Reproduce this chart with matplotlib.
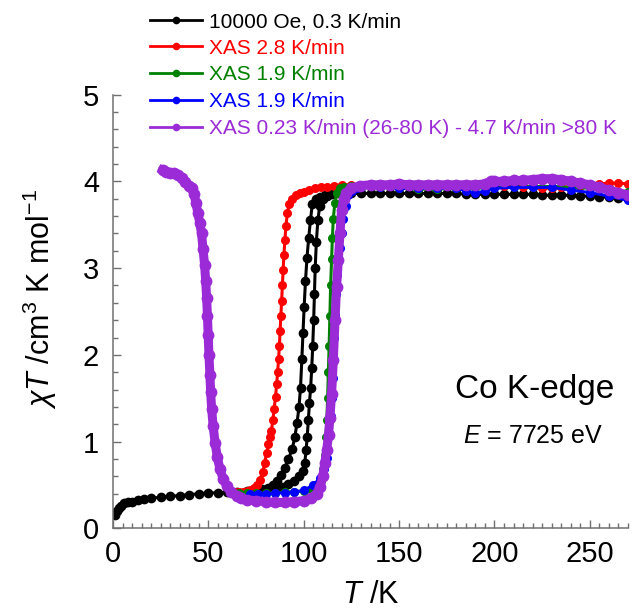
import matplotlib
matplotlib.use("Agg")
import matplotlib.pyplot as plt
from matplotlib.ticker import MultipleLocator
from matplotlib.lines import Line2D

plt.rcParams['font.family'] = ['Liberation Sans', 'DejaVu Sans']
plt.rcParams['mathtext.fontset'] = 'custom'
plt.rcParams['mathtext.rm'] = 'Liberation Sans'
plt.rcParams['mathtext.it'] = 'Liberation Sans:italic'

# SQUID, 10000 Oe, 0.3 K/min : warming branch then cooling branch
black_warm_T = [1, 2, 3, 4, 6, 8, 10, 13, 16, 20, 25, 30, 35, 40, 45, 50, 55, 60, 65, 70,
                75, 80, 85, 89, 92, 95, 97.5, 99.6, 100.5, 101.2, 101.8, 102.4, 103, 103.6,
                104.2, 104.7, 105.2, 105.6, 106, 106.6, 107.4, 108.4, 110, 112, 115,
                120, 125, 130, 135, 140, 145, 150, 155, 160, 165, 170, 175, 180, 185, 190,
                195, 200, 205, 210, 215, 220, 225, 230, 235, 240, 245, 250, 255, 260, 265, 270]
black_warm_chi = [0.15, 0.2, 0.24, 0.26, 0.29, 0.3, 0.31, 0.33, 0.34, 0.35, 0.36, 0.37, 0.38,
                  0.39, 0.4, 0.41, 0.41, 0.42, 0.42, 0.43, 0.43, 0.44, 0.46, 0.48, 0.51, 0.55,
                  0.6, 0.66, 0.75, 0.9, 1.05, 1.25, 1.45, 1.62, 1.85, 2.1, 2.4, 2.7, 3.0, 3.3,
                  3.55, 3.72, 3.8, 3.83, 3.85,
                  3.86, 3.86, 3.86, 3.86, 3.86, 3.86, 3.86, 3.86, 3.86, 3.86, 3.86, 3.86, 3.86,
                  3.85, 3.85, 3.85, 3.85, 3.85, 3.85, 3.85, 3.85, 3.84, 3.84, 3.84, 3.84, 3.83,
                  3.83, 3.82, 3.82, 3.81, 3.81]
black_cool_T = [118, 114, 111, 108.5, 106.5, 104.5, 103.5, 102.6, 101.7, 100.9, 100.2, 99.6,
                99, 98.3, 97.5, 96.5, 95.3, 94, 92, 90, 88, 86, 84, 81, 78, 75]
black_cool_chi = [3.86, 3.85, 3.84, 3.82, 3.8, 3.74, 3.55, 3.35, 3.12, 2.85, 2.55, 2.25, 1.95,
                  1.62, 1.4, 1.22, 1.05, 0.92, 0.8, 0.7, 0.62, 0.55, 0.5, 0.47, 0.45, 0.44]

# XAS 2.8 K/min
red_T = [62, 64, 66, 68, 70, 72, 74, 75.5, 77, 78.5, 79.5, 80.5, 81.5, 82.3, 83, 83.8, 84.5,
         85.2, 85.8, 86.3, 86.8, 87.2, 87.6, 88, 88.4, 88.8, 89.2, 89.6, 90.1, 90.7, 91.4,
         92.4, 94, 96, 98, 100, 103, 106, 109, 112, 116, 120, 125, 130, 135, 140, 145, 150,
         155, 160, 165, 170, 175, 180, 185, 190, 195, 200, 205, 210, 215, 220, 225, 230, 235,
         240, 245, 250, 255, 260, 265, 270]
red_chi = [0.42, 0.42, 0.42, 0.42, 0.43, 0.44, 0.47, 0.5, 0.56, 0.65, 0.75, 0.87, 0.97, 1.05,
           1.12, 1.25, 1.38, 1.52, 1.66, 1.8, 1.95, 2.1, 2.27, 2.45, 2.62, 2.8, 2.98, 3.15,
           3.32, 3.49, 3.63, 3.74, 3.8, 3.84, 3.87, 3.88, 3.9, 3.92, 3.93, 3.94, 3.95, 3.96,
           3.96, 3.96, 3.96, 3.96, 3.96, 3.96, 3.96, 3.96, 3.96, 3.96, 3.96, 3.96, 3.96, 3.96,
           3.96, 3.96, 3.95, 3.95, 3.94, 3.93, 3.92, 3.92, 3.93, 3.94, 3.95, 3.96, 3.97, 3.98,
           3.98, 3.97]

# XAS 1.9 K/min (green)
green_T = [66, 70, 75, 80, 85, 90, 95, 100, 104, 107, 109, 110.3, 111, 111.6, 112.1, 112.5,
           112.9, 113.3, 113.7, 114.1, 114.6, 115, 115.5, 116.3, 117.2, 119, 121, 125, 130,
           140, 150, 160, 170, 180, 190, 200, 210, 220, 230, 240, 250, 260, 270]
green_chi = [0.41, 0.41, 0.41, 0.41, 0.41, 0.42, 0.42, 0.43, 0.45, 0.48, 0.55, 0.68, 0.85,
             1.05, 1.25, 1.5, 1.8, 2.1, 2.45, 2.8, 3.1, 3.35, 3.57, 3.75, 3.86, 3.92, 3.94,
             3.95, 3.94, 3.93, 3.92, 3.91, 3.91, 3.92, 3.92, 3.93, 3.93, 3.94, 3.94, 3.93,
             3.92, 3.9, 3.88]

# XAS 1.9 K/min (blue)
blue_T = [72, 76, 80, 85, 90, 95, 100, 105, 108.5, 110.5, 112, 113.3, 114.1, 114.6, 115.1,
          115.5, 116, 116.4, 116.8, 117.2, 118, 119, 119.8, 120.7, 122, 123.3, 125.5, 127.7,
          130, 140, 150, 160, 170, 180, 185, 190, 195, 200, 210, 220, 230, 240, 250, 260, 270]
blue_chi = [0.4, 0.4, 0.4, 0.41, 0.41, 0.42, 0.44, 0.5, 0.58, 0.68, 0.81, 1.1, 1.3, 1.5, 1.73,
            1.96, 2.2, 2.46, 2.7, 2.92, 3.1, 3.23, 3.4, 3.57, 3.72, 3.84, 3.89, 3.92, 3.93,
            3.93, 3.92, 3.92, 3.92, 3.92, 3.89, 3.86, 3.89, 3.92, 3.93, 3.93, 3.93, 3.9, 3.87,
            3.83, 3.78]

# XAS 0.23 K/min (26-80 K) - 4.7 K/min >80 K
purple_T = [26, 28, 30, 32, 34, 36, 38, 40, 41.5, 42.5, 43.5, 44.5, 45.5, 46.4, 47.2, 48,
            48.6, 49.1, 49.5, 49.9, 50.3, 50.8, 51.2, 51.7, 52.5, 53.5, 54.7, 56.1, 57.8,
            59.6, 62, 64.8, 67, 70, 75, 80, 85, 90, 95, 100, 104, 106.7, 108.5, 110, 111,
            112, 113, 113.7, 114.6, 115.5, 116.4, 117.2, 118.1, 119, 119.8, 121, 122.3, 125,
            129.5, 135, 140, 145, 150, 155, 160, 165, 170, 175, 180, 185, 190, 195, 198, 200,
            205, 210, 215, 220, 225, 230, 235, 240, 245, 250, 255, 260, 265, 270]
purple_chi = [4.13, 4.11, 4.1, 4.09, 4.07, 4.04, 3.99, 3.95, 3.92, 3.85, 3.75, 3.63, 3.52, 3.4,
              3.22, 3.04, 2.85, 2.65, 2.45, 2.23, 2.0, 1.77, 1.57, 1.38, 1.18, 0.99, 0.82,
              0.68, 0.57, 0.49, 0.42, 0.37, 0.35, 0.33, 0.32, 0.31, 0.3, 0.3, 0.31, 0.32,
              0.35, 0.4, 0.48, 0.6, 0.75, 0.9, 1.08, 1.27, 1.55, 1.94, 2.4, 2.78, 3.09, 3.4,
              3.67, 3.8, 3.87, 3.92, 3.95, 3.96, 3.96, 3.96, 3.97, 3.96, 3.96, 3.96, 3.96,
              3.96, 3.96, 3.96, 3.96, 3.97, 4.0, 4.0, 4.0, 4.01, 4.01, 4.02, 4.03, 4.03, 4.02,
              4.0, 3.98, 3.96, 3.93, 3.9, 3.87, 3.84]

labels = ['10000 Oe, 0.3 K/min', 'XAS 2.8 K/min', 'XAS 1.9 K/min', 'XAS 1.9 K/min',
          'XAS 0.23 K/min (26-80 K) - 4.7 K/min >80 K']
colors = ['#000000', '#ff0000', '#008000', '#0000ff', '#9b2bd6']

fig = plt.figure(figsize=(6.32, 6.09), dpi=100)
ax = fig.add_axes([0.1788, 0.1322, 0.8149, 0.7126])

ax.plot(black_warm_T, black_warm_chi, '-o', color=colors[0], lw=2.2, ms=7, mew=0)
ax.plot(black_cool_T, black_cool_chi, '-o', color=colors[0], lw=2.2, ms=7, mew=0)
ax.plot(red_T, red_chi, '-o', color=colors[1], lw=2.2, ms=6.5, mew=0)
ax.plot(green_T, green_chi, '-o', color=colors[2], lw=2.2, ms=6.5, mew=0)
ax.plot(blue_T, blue_chi, '-o', color=colors[3], lw=2.2, ms=6.5, mew=0)
ax.plot(purple_T, purple_chi, '-o', color=colors[4], lw=6.5, ms=8.5, mew=0)

ax.set_xlim(0, 270)
ax.set_ylim(0, 5)
ax.xaxis.set_major_locator(MultipleLocator(50))
ax.xaxis.set_minor_locator(MultipleLocator(5))
ax.yaxis.set_major_locator(MultipleLocator(1))
ax.yaxis.set_minor_locator(MultipleLocator(0.2))
for s in ['top', 'right']:
    ax.spines[s].set_visible(False)
for s in ['left', 'bottom']:
    ax.spines[s].set_color('#707070')
    ax.spines[s].set_linewidth(1.1)
ax.tick_params(which='both', direction='in', color='#707070', width=1.0, labelsize=21)
ax.tick_params(which='major', length=6)
ax.tick_params(which='minor', length=3.5)
ax.tick_params(axis='y', pad=10)
ax.tick_params(axis='x', pad=8)

ax.set_xlabel(r'$T$ /K', fontsize=22, labelpad=9)
ax.set_ylabel(r'$\chi T$ /cm$^3$ K mol$^{-1}$', fontsize=22)
ax.yaxis.set_label_coords(-0.105, 0.53)

ax.text(221, 1.6, 'Co K-edge', fontsize=24, ha='center', va='center')
ax.text(220, 1.06, r'$E$ = 7725 eV', fontsize=18, ha='center', va='center')

handles = [Line2D([], [], color=c, lw=2, marker='o', ms=5.5, mew=0) for c in colors]
fig.legend(handles, labels, loc='upper left', bbox_to_anchor=(150 / 632, 1 - 12 / 609),
           frameon=False, fontsize=15, handlelength=2.5, handletextpad=0.35,
           labelspacing=0.37, borderpad=0, borderaxespad=0, numpoints=1,
           labelcolor='linecolor')

fig.savefig('out.png', dpi=100)
